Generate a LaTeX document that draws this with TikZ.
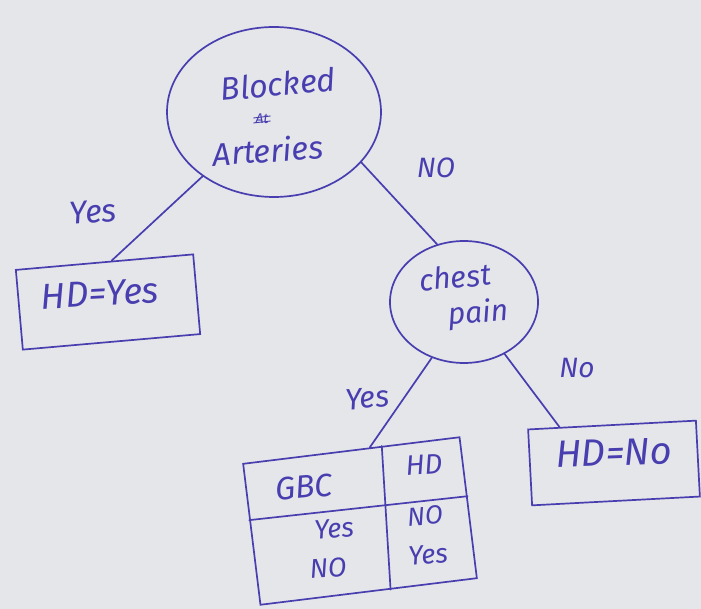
\documentclass[tikz,border=0pt]{standalone}
\usepackage{fontspec}
\setmainfont{Fira Sans}
\usetikzlibrary{shapes.geometric,calc}
\definecolor{ink}{RGB}{72,62,175}
\definecolor{paper}{RGB}{229,230,234}
\newcommand{\hsz}[1]{\fontsize{#1}{#1}\selectfont\itshape}
\begin{document}
\begin{tikzpicture}[x=1pt,y=-1pt,
  hand/.style={text=ink, inner sep=0pt},
  inkline/.style={draw=ink, line width=1.7pt, line cap=round},
  decision/.style={ellipse, draw=ink, line width=1.7pt, inner sep=0pt},
  leaf/.style={rectangle, draw=ink, line width=1.7pt, inner sep=0pt}]
\fill[paper] (0,0) rectangle (701,609);
\useasboundingbox (0,0) rectangle (701,609);

% decision nodes
\node[decision, minimum width=214pt, minimum height=170pt] (ba) at (274,112) {};
\node[hand, rotate=5, font=\hsz{32}] (ba1) at (278,84) {Blocked};
\node[hand, rotate=4, font=\hsz{32}] (ba2) at (268,150) {Arteries};
\node[hand, font=\hsz{14}] (baat) at (262,119) {At};
\draw[draw=ink, line width=0.9pt] ($(baat.west)+(-2,-1)$) -- ($(baat.east)+(2,-3)$);
\draw[draw=ink, line width=0.9pt] ($(baat.west)+(-2,4)$) -- ($(baat.east)+(2,2)$);

\node[decision, minimum width=148pt, minimum height=122pt] (cp) at (464,302) {};
\node[hand, rotate=5, font=\hsz{30}] (cp1) at (455,277) {chest};
\node[hand, rotate=4, font=\hsz{30}] (cp2) at (478,314) {pain};

% leaves
\node[leaf, minimum width=178pt, minimum height=80pt, rotate=5] (hy) at (108,302) {};
\node[hand, rotate=3, font=\hsz{36}] (hyt) at (100,294) {HD=Yes};

\node[leaf, minimum width=168pt, minimum height=76pt, rotate=3] (hn) at (614,463) {};
\node[hand, rotate=2, font=\hsz{38}] (hnt) at (614,453) {HD=No};

% table
\node[leaf, minimum width=218pt, minimum height=142pt, rotate=7] (tab) at (360,521) {};
\coordinate (hl) at ($(tab.north west)!0.4!(tab.south west)$);
\coordinate (hr) at ($(tab.north east)!0.42!(tab.south east)$);
\coordinate (vt) at ($(tab.north west)!0.64!(tab.north east)$);
\coordinate (vb) at ($(tab.south west)!0.6!(tab.south east)$);
\draw[inkline] (hl) -- (hr);
\draw[inkline] (vt) -- (vb);
\node[hand, rotate=5, font=\hsz{32}] (g1) at (304,487) {GBC};
\node[hand, rotate=4, font=\hsz{28}] (g2) at (424,465) {HD};
\node[hand, rotate=5, font=\hsz{27}] (g3) at (334,529) {Yes};
\node[hand, rotate=4, font=\hsz{27}] (g4) at (328,568) {NO};
\node[hand, rotate=4, font=\hsz{26}] (g5) at (425,516) {NO};
\node[hand, rotate=5, font=\hsz{27}] (g6) at (428,555) {Yes};

% connectors
\coordinate (hyc) at ($(hy.north west)!0.54!(hy.north east)$);
\coordinate (tabc) at ($(tab.north west)!0.585!(tab.north east)$);
\coordinate (hnc) at ($(hn.north west)!0.19!(hn.north east)$);
\draw[inkline] (ba.222) -- (hyc);
\draw[inkline] (ba.330) -- (cp.115);
\draw[inkline] (cp.240) -- (tabc);
\draw[inkline] (cp.308) -- (hnc);

% edge labels
\node[hand, rotate=5, font=\hsz{32}] (l1) at (93,212) {Yes};
\node[hand, rotate=0, font=\hsz{28}] (l2) at (436,168) {NO};
\node[hand, rotate=5, font=\hsz{30}] (l3) at (367,398) {Yes};
\node[hand, rotate=0, font=\hsz{28}] (l4) at (577,368) {No};
\end{tikzpicture}
\end{document}
